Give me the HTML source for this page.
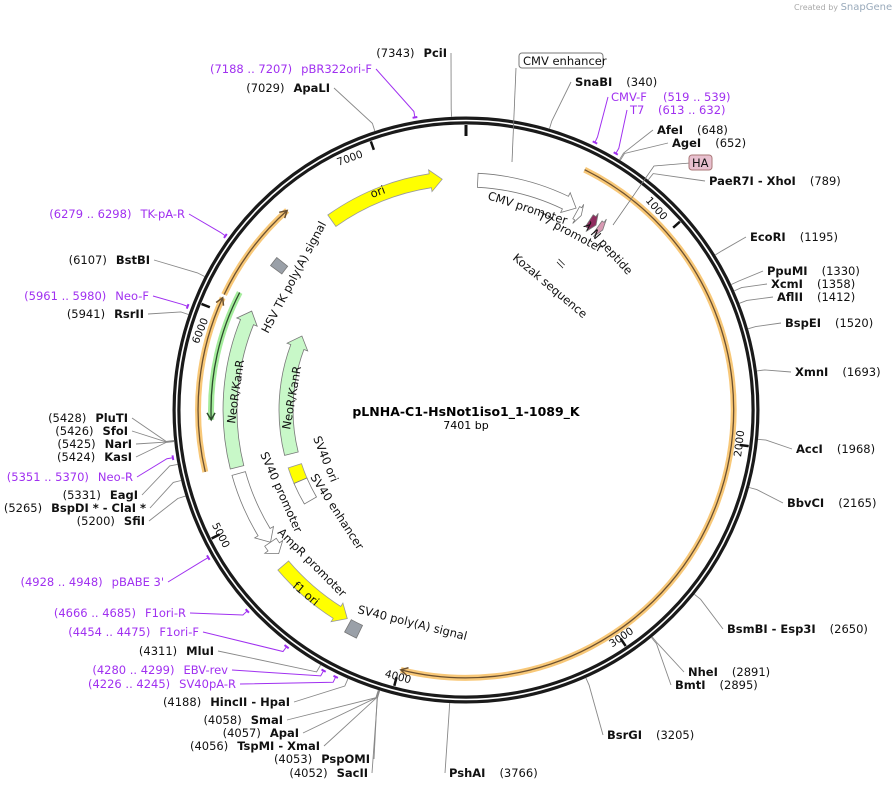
<!DOCTYPE html>
<html><head><meta charset="utf-8"><style>
html,body{margin:0;padding:0;background:#fff;}
svg{display:block;font-family:"DejaVu Sans","Liberation Sans",sans-serif;}
.b{font-weight:bold;}
</style></head><body>
<svg id="map" width="892" height="791" viewBox="0 0 892 791" xmlns="http://www.w3.org/2000/svg">
<text x="794" y="10" font-size="8" fill="#aaa">Created by <tspan font-size="10" fill="#9ab">SnapGene</tspan></text>
<g id="g-feat"></g>
<g id="g-ring"></g>
<g id="g-sites"></g>
<g id="g-primers"></g>
<g id="g-flabels" font-size="11.5" fill="#111">
<text transform="translate(372,198) rotate(-20)">ori</text>
<text transform="translate(487,199) rotate(18)">CMV promoter</text>
<text transform="translate(537,219) rotate(28)">T7 promoter</text>
<text transform="translate(583,226) rotate(48)">λ N peptide</text>
<text transform="translate(512,259) rotate(40)">Kozak sequence</text>
<text transform="translate(562,268) rotate(-62)" font-size="10">//</text>
<text transform="translate(268,334) rotate(-62)">HSV TK poly(A) signal</text>
<text transform="translate(235,424) rotate(-82)">NeoR/KanR</text>
<text transform="translate(290,430) rotate(-80)">NeoR/KanR</text>
<text transform="translate(313,438) rotate(68)">SV40 ori</text>
<text transform="translate(310,477) rotate(57)">SV40 enhancer</text>
<text transform="translate(260,454) rotate(66)">SV40 promoter</text>
<text transform="translate(277,533) rotate(45)">AmpR promoter</text>
<text transform="translate(292,587) rotate(40)">f1 ori</text>
<text transform="translate(357,613) rotate(14)">SV40 poly(A) signal</text>
<line x1="516" y1="68" x2="512" y2="162" stroke="#777" stroke-width="0.8"/>
<rect x="519" y="53" width="84" height="15" rx="3" fill="#fff" stroke="#777"/>
<text x="523" y="65">CMV enhancer</text>
<polyline points="690,163 654,166 613,225" fill="none" stroke="#777" stroke-width="0.8"/>
<rect x="689" y="155" width="23" height="15" rx="3" fill="#e8c0cf" stroke="#a77"/>
<text x="692" y="167">HA</text>
</g>
<text x="466" y="416" text-anchor="middle" font-size="12.5" font-weight="bold">pLNHA-C1-HsNot1iso1_1-1089_K</text>
<text x="466" y="429" text-anchor="middle" font-size="11">7401 bp</text>
</svg>
<script>
const TOTAL = 7401;
const cx = 466, cy = 410, R = 289.5;
// features
const featNames = ["ori","CMV promoter","T7 promoter","lambda N peptide","HA","HSV TK poly(A)","NeoR/KanR","SV40 promoter","AmpR promoter","f1 ori","SV40 poly(A)","NeoR/KanR inner","SV40 ori","SV40 enhancer"];
const featStart = [6675,60,600,680,735,6300,5262,4850,4780,4310,4228,5262,5075,4930];
const featEnd   = [7280,588,630,722,765,6350,6060,5230,4850,4720,4290,6050,5180,5075];
const featDir   = [1,1,1,1,1,0,1,-1,-1,-1,0,1,0,0];
const featRing  = [232,230,226,226,226,236,236,236,236,240,246,180,180,180];
const featFill  = ["#ffff00","#fff","#fff","#8f2b5e","#d89ab3","#9aa0a8","#c8f8c8","#fff","#fff","#ffff00","#9aa0a8","#c8f8c8","#ffff00","#fff"];
// thin highlighted arcs (orange / green)
const thinNames = ["orf-right","orf-left-a","orf-left-b","neor-thin"];
const thinStart = [540,5276,6075,5505];
const thinEnd   = [3990,6060,6540,6115];
const thinDir   = [1,1,1,-1];
// restriction sites
const siteNames = ["PciI","ApaLI","SnaBI","AfeI","AgeI","PaeR7I - XhoI","EcoRI","PpuMI","XcmI","AflII","BspEI","XmnI","AccI","BbvCI","BsmBI - Esp3I","NheI","BmtI","BsrGI","PshAI","SacII","PspOMI","TspMI - XmaI","ApaI","SmaI","HincII - HpaI","MluI","SfiI","BspDI * - ClaI *","EagI","KasI","NarI","SfoI","PluTI","RsrII","BstBI"];
const sitePos = [7343,7029,340,648,652,789,1195,1330,1358,1412,1520,1693,1968,2165,2650,2891,2895,3205,3766,4052,4053,4056,4057,4058,4188,4311,5200,5265,5331,5424,5425,5426,5428,5941,6107];
// primers
const primerNames = ["CMV-F","T7","pBR322ori-F","TK-pA-R","Neo-F","Neo-R","pBABE 3'","F1ori-R","F1ori-F","EBV-rev","SV40pA-R"];
const primerStart = [519,613,7188,6279,5961,5351,4928,4666,4454,4280,4226];
const primerEnd   = [539,632,7207,6298,5980,5370,4948,4685,4475,4299,4245];
const tickValues = [1000,2000,3000,4000,5000,6000,7000];

// label layout (side, x, y) - positions for text placement
const siteLayout = {
 "PciI":["L",447,57],"ApaLI":["L",330,92],"SnaBI":["R",575,86],"AfeI":["R",657,134],"AgeI":["R",672,147],
 "PaeR7I - XhoI":["R",709,185],"EcoRI":["R",750,241],"PpuMI":["R",767,275],"XcmI":["R",771,288],"AflII":["R",777,301],
 "BspEI":["R",785,327],"XmnI":["R",795,376],"AccI":["R",796,453],"BbvCI":["R",787,507],"BsmBI - Esp3I":["R",727,633],
 "NheI":["R",688,676],"BmtI":["R",675,689],"BsrGI":["R",607,739],"PshAI":["R",449,777],
 "SacII":["L",368,777],"PspOMI":["L",370,763],"TspMI - XmaI":["L",320,750],"ApaI":["L",299,737],"SmaI":["L",283,724],
 "HincII - HpaI":["L",290,706],"MluI":["L",214,655],"SfiI":["L",145,525],"BspDI * - ClaI *":["L",146,512],"EagI":["L",138,499],
 "KasI":["L",132,461],"NarI":["L",132,448],"SfoI":["L",128,435],"PluTI":["L",128,422],"RsrII":["L",144,318],"BstBI":["L",150,264]};
const primerLayout = {"CMV-F":["R",611,101,663],"T7":["R",630,114,658],"pBR322ori-F":["L",372,73],"TK-pA-R":["L",185,218],
 "Neo-F":["L",149,300],"Neo-R":["L",133,481],"pBABE 3'":["L",164,586],"F1ori-R":["L",186,617],"F1ori-F":["L",199,636],
 "EBV-rev":["L",228,674],"SV40pA-R":["L",236,688]};

const NS="http://www.w3.org/2000/svg";
function ang(p){return p/TOTAL*360;}
function pt(r,deg){const a=deg*Math.PI/180;return [cx+r*Math.sin(a),cy-r*Math.cos(a)];}
function f(p){return p[0].toFixed(1)+","+p[1].toFixed(1);}
function arc(r,a0,a1){const p=pt(r,a1);const large=Math.abs(a1-a0)>180?1:0;const sw=a1>a0?1:0;return "A"+r+","+r+" 0 "+large+","+sw+" "+f(p);}
function mk(tag,attrs,parent){const e=document.createElementNS(NS,tag);for(const k in attrs)e.setAttribute(k,attrs[k]);parent.appendChild(e);return e;}

const gF=document.getElementById("g-feat");
// thin arcs
for(let i=0;i<thinNames.length;i++){
  const isGreen=thinNames[i]==="neor-thin";
  const r=isGreen?255:268;
  const a0=ang(thinStart[i]),a1=ang(thinEnd[i]);
  const d="M"+f(pt(r,a0))+arc(r,a0,a1);
  const under=mk("path",{d:d,fill:"none",stroke:isGreen?"#a4ec9c":"#f8c878","stroke-width":6},gF);
  
  
  mk("path",{d:d,fill:"none",stroke:isGreen?"#2c4a2c":"#6b5030","stroke-width":1.3},gF);
  const tipA=thinDir[i]>0?a1:a0, back=thinDir[i]>0?-1:1;
  const hb=7/r*180/Math.PI*back;
  const ah=mk("path",{d:"M"+f(pt(r+4,tipA+hb))+"L"+f(pt(r,tipA))+"L"+f(pt(r-4,tipA+hb)),fill:"none",stroke:isGreen?"#2c4a2c":"#6b5030","stroke-width":1.5},gF);
}
// features
for(let i=0;i<featNames.length;i++){
  const r=featRing[i], w=(r<200?14:14);
  const a0=ang(featStart[i]),a1=ang(featEnd[i]);
  const ro=r+w/2, ri=r-w/2;
  let head=Math.min(12/r*180/Math.PI,(a1-a0)*0.6);
  let d;
  if(featDir[i]===1){
    const b=a1-head;
    d="M"+f(pt(ro,a0))+arc(ro,a0,b)+"L"+f(pt(ro+4,b))+"L"+f(pt(r,a1))+"L"+f(pt(ri-4,b))+"L"+f(pt(ri,b))+arc(ri,b,a0)+"Z";
  }else if(featDir[i]===-1){
    const b=a0+head;
    d="M"+f(pt(ro,a1))+arc(ro,a1,b)+"L"+f(pt(ro+4,b))+"L"+f(pt(r,a0))+"L"+f(pt(ri-4,b))+"L"+f(pt(ri,b))+arc(ri,b,a1)+"Z";
  }else{
    d="M"+f(pt(ro,a0))+arc(ro,a0,a1)+"L"+f(pt(ri,a1))+arc(ri,a1,a0)+"Z";
  }
  const e=mk("path",{d:d,fill:featFill[i],stroke:featFill[i]==="#ffff00"?"#999":"#777","stroke-width":0.8},gF);
  
  
}
// ring
const gR=document.getElementById("g-ring");
mk("circle",{cx:cx,cy:cy,r:R,fill:"none",stroke:"#1a1a1a","stroke-width":8},gR);
mk("circle",{cx:cx,cy:cy,r:R,fill:"none",stroke:"#fff","stroke-width":1.6},gR);
mk("line",{x1:pt(285,0)[0],y1:pt(285,0)[1],x2:pt(274,0)[0],y2:pt(274,0)[1],stroke:"#111","stroke-width":3},gR);
for(const t of tickValues){
  const a=ang(t);const p1=pt(285,a),p2=pt(276,a);
  const tk=mk("line",{x1:p1[0],y1:p1[1],x2:p2[0],y2:p2[1],stroke:"#111","stroke-width":2.5},gR);
  
  
  const flip=(a>90&&a<270);
  const off=flip?2.5:-2.5;
  const p=pt(276,a+off);
  const rot=flip?a-180:a;
  const tx=mk("text",{transform:"translate("+f(p)+") rotate("+rot.toFixed(1)+")","font-size":10.5,"text-anchor":flip?"start":"end","dominant-baseline":"middle",fill:"#111"},gR);
  
  
  tx.textContent=String(t);
}
// sites
const gS=document.getElementById("g-sites");
for(let i=0;i<siteNames.length;i++){
  const n=siteNames[i],L=siteLayout[n],a=ang(sitePos[i]);
  const p0=pt(R+4,a),p1=pt(R+12,a);
  const lx=L[0]==="R"?L[1]-4:L[1]+4, ly=L[2]-4;
  const ln=mk("polyline",{points:f(p0)+" "+f(p1)+" "+lx+","+ly,fill:"none",stroke:"#888","stroke-width":0.9},gS);
  
  
  const t=mk("text",{x:L[1],y:L[2],"font-size":11.5,"text-anchor":L[0]==="R"?"start":"end",fill:"#111"},gS);
  
  
  t.setAttribute("xml:space","preserve");
  if(L[0]==="R"){
    const a1=mk("tspan",{class:"b"},t);a1.textContent=n;
    const a2=mk("tspan",{dx:14},t);a2.textContent="("+sitePos[i]+")";
  }else{
    const a1=mk("tspan",{},t);a1.textContent="("+sitePos[i]+")";
    const a2=mk("tspan",{class:"b",dx:9},t);a2.textContent=n;
  }
}
// primers
const gP=document.getElementById("g-primers");
const PC="#a030f0";
for(let i=0;i<primerNames.length;i++){
  const n=primerNames[i],L=primerLayout[n];
  const a0=ang(primerStart[i]),a1=ang(primerEnd[i]);
  const br=mk("path",{d:"M"+f(pt(297,a0))+arc(297,a0,a1),fill:"none",stroke:PC,"stroke-width":2},gP);
  
  
  const am=(a0+a1)/2;
  const lx=L[0]==="R"?L[1]-3:L[1]+4, ly=L[2]-4;
  mk("polyline",{points:f(pt(297,am))+" "+f(pt(303,am))+" "+lx+","+ly,fill:"none",stroke:PC,"stroke-width":1},gP);
  const t=mk("text",{x:L[1],y:L[2],"font-size":11.5,"text-anchor":L[0]==="R"?"start":"end",fill:PC},gP);
  
  
  const rng="("+primerStart[i]+" .. "+primerEnd[i]+")";
  if(L[0]==="R"){
    const a=mk("tspan",{},t);a.textContent=n;
    const b=mk("tspan",{x:L[3]},t);b.textContent=rng;
  }else{
    const a=mk("tspan",{},t);a.textContent=rng;
    const b=mk("tspan",{dx:9},t);b.textContent=n;
  }
}
</script>
</body></html>
